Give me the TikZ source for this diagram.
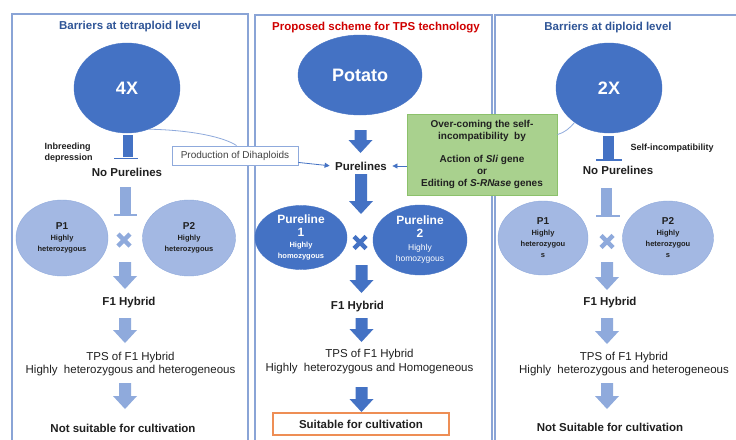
\documentclass[tikz,border=0pt]{standalone}
\usepackage{fontspec}
\setmainfont{Liberation Sans}
\usetikzlibrary{arrows.meta,calc,shapes.geometric}
\definecolor{dblue}{HTML}{4472C4}
\definecolor{lblue}{HTML}{8FAADC}
\definecolor{lfill}{HTML}{A3B8E3}
\definecolor{pborder}{HTML}{8AA4D6}
\definecolor{tblue}{HTML}{2F5597}
\definecolor{tred}{HTML}{D00000}
\definecolor{gfill}{HTML}{A9D18E}
\definecolor{gdraw}{HTML}{8CC16B}
\definecolor{obox}{HTML}{EE8E55}
\definecolor{txt}{HTML}{202020}
\begin{document}
\begin{tikzpicture}[x=1pt,y=-1pt,
  panel/.style={draw=pborder, line width=1.1pt},
  title/.style={font=\bfseries\fontsize{11.5}{13}\selectfont, text=tblue},
  bigell/.style={ellipse, fill=dblue, draw=dblue, text=white, inner sep=0pt,
    font=\bfseries\fontsize{18}{20}\selectfont},
  lbl/.style={font=\bfseries\fontsize{11.5}{13}\selectfont, text=txt},
  reg/.style={font=\fontsize{11.5}{13.5}\selectfont, align=center, text=txt},
  small/.style={font=\bfseries\fontsize{9}{11}\selectfont, text=txt, align=left},
  pell/.style={ellipse, fill=lfill, draw=lblue, align=center, inner sep=0pt, text=txt},
  dell/.style={ellipse, fill=dblue, draw=dblue, align=center, inner sep=0pt, text=white},
  conn/.style={draw=lblue, line width=0.8pt},
  thinarrow/.style={draw=dblue, line width=0.8pt, -{Triangle[length=5pt,width=5pt]}, shorten >=2pt},
  pics/barrow/.style n args={2}{code={
    \fill[#2] (-6,0) -- (6,0) -- (6,#1-13) -- (12,#1-13) -- (0,#1) -- (-12,#1-13) -- (-6,#1-13) -- cycle;}},
  pics/crossmark/.style={code={
    \draw[#1, line width=4.5pt] (-6,-6) -- (6,6) (-6,6) -- (6,-6);}}
]
\useasboundingbox (0,0) rectangle (736,439);
\fill[white] (0,0) rectangle (736,439);

% panels
\draw[panel] (12,445) -- (12,14) -- (248,14) -- (248,445);
\draw[panel] (255,445) -- (255,15) -- (492,15) -- (492,445);
\draw[panel] (495,445) -- (495,15) -- (740,15);

% titles
\node[title] (t1) at (130,27) {Barriers at tetraploid level};
\node[title, text=tred] (t2) at (376,28) {Proposed scheme for TPS technology};
\node[title] (t3) at (608,28) {Barriers at diploid level};

% big ellipses
\node[bigell, minimum width=106pt, minimum height=90pt] (fourx) at (127,88) {4X};
\node[bigell, minimum width=124pt, minimum height=80pt] (potato) at (360,75) {Potato};
\node[bigell, minimum width=106pt, minimum height=90pt] (twox) at (609,88) {2X};

% inhibition bars (dark)
\fill[dblue] (123,135) rectangle (133,157);
\draw[dblue, line width=1.5pt] (114,158.5) -- (138,158.5);
\fill[dblue] (603,136) rectangle (614,159);
\draw[dblue, line width=1.5pt] (596,160) -- (622,160);

\node[small, anchor=west] (inb) at (41,152.5) {Inbreeding\\depression};
\node[small, anchor=west] (selfinc) at (627,148) {Self-incompatibility};

\node[lbl] (np1) at (127,172) {No Purelines};
\node[lbl] (np3) at (618,170) {No Purelines};
\node[lbl] (pure) at (361,166) {Purelines};

% inhibition bars (light)
\fill[lblue] (120,187) rectangle (131,214);
\draw[lblue, line width=1.5pt] (114,215) -- (137,215);
\fill[lblue] (601,188) rectangle (612,215);
\draw[lblue, line width=1.5pt] (596,216) -- (620,216);

% production of dihaploids
\node[draw=lblue, line width=0.9pt, fill=white, minimum width=126pt, minimum height=19pt,
  inner sep=0pt, font=\fontsize{10}{12}\selectfont, text=txt!85] (prod) at (235,155.5) {Production of Dihaploids};
\draw[conn] (fourx.-62) .. controls +(45,1) and +(-12,-8) .. ($(prod.north west)+(65,0)$);
\draw[thinarrow] ($(prod.south east)+(0,-3)$) -- (pure.west);

% green box
\node[draw=gdraw, fill=gfill, line width=0.9pt, minimum width=150pt, minimum height=81pt,
  inner sep=0pt, align=center, text=txt, font=\bfseries\fontsize{10}{11.8}\selectfont] (green) at (482,154.5)
  {Over-coming the self-\\incompatibility\ \ by\\[11.8pt]Action of \textit{Sli} gene\\or\\Editing of \textit{S-RNase} genes};
\draw[thinarrow] (green.west |- pure) -- (pure.east);
\draw[conn] ($(green.north east)+(0,21)$) .. controls +(7,-2) and +(-5,6) .. (twox.-135);

% parents left
\node[pell, minimum width=92pt, minimum height=76pt] (p1l) at (62,238)
  {{\bfseries\fontsize{10}{10}\selectfont P1}\\[-1pt]{\bfseries\fontsize{7.5}{9}\selectfont Highly}\\[-1pt]{\bfseries\fontsize{7.5}{9}\selectfont heterozygous}};
\node[pell, minimum width=93pt, minimum height=76pt] (p2l) at (189,238)
  {{\bfseries\fontsize{10}{10}\selectfont P2}\\[-1pt]{\bfseries\fontsize{7.5}{9}\selectfont Highly}\\[-1pt]{\bfseries\fontsize{7.5}{9}\selectfont heterozygous}};
\pic at (124,240) {crossmark=lblue};

% parents right
\node[pell, minimum width=90pt, minimum height=74pt] (p1r) at (543,238)
  {{\bfseries\fontsize{10}{10}\selectfont P1}\\[-1pt]{\bfseries\fontsize{7.5}{9}\selectfont Highly}\\[-1pt]{\bfseries\fontsize{7.5}{9}\selectfont heterozygou}\\[-1pt]{\bfseries\fontsize{7.5}{9}\selectfont s}};
\node[pell, minimum width=91pt, minimum height=74pt] (p2r) at (668,238)
  {{\bfseries\fontsize{10}{10}\selectfont P2}\\[-1pt]{\bfseries\fontsize{7.5}{9}\selectfont Highly}\\[-1pt]{\bfseries\fontsize{7.5}{9}\selectfont heterozygou}\\[-1pt]{\bfseries\fontsize{7.5}{9}\selectfont s}};
\pic at (607,241.5) {crossmark=lblue};

% purelines middle
\node[dell, minimum width=92pt, minimum height=63pt] (pl1) at (301,237.5)
  {{\bfseries\fontsize{12}{14}\selectfont Pureline}\\[1pt]{\bfseries\fontsize{12}{13}\selectfont 1}\\[-1pt]{\bfseries\fontsize{7.5}{9}\selectfont Highly}\\[-1pt]{\bfseries\fontsize{7.5}{9}\selectfont homozygous}};
\node[dell, minimum width=94pt, minimum height=70pt] (pl2) at (420,240)
  {{\bfseries\fontsize{12}{14}\selectfont Pureline}\\[1pt]{\bfseries\fontsize{12}{13}\selectfont 2}\\[1pt]{\fontsize{8.5}{10}\selectfont Highly}\\[-1pt]{\fontsize{8.5}{10}\selectfont homozygous}};
\pic at (360,242.5) {crossmark=dblue};

% block arrows
\pic at (125,262) {barrow={27}{lblue}};
\pic at (125,318) {barrow={25}{lblue}};
\pic at (125,383) {barrow={26}{lblue}};
\pic at (360.5,130) {barrow={23}{dblue}};
\pic at (361,174) {barrow={40}{dblue}};
\pic at (361.5,265) {barrow={28}{dblue}};
\pic at (361.5,318) {barrow={24}{dblue}};
\pic at (361.5,387) {barrow={25}{dblue}};
\pic at (607,262) {barrow={28}{lblue}};
\pic at (607,318) {barrow={26}{lblue}};
\pic at (607,383) {barrow={26}{lblue}};

% F1 hybrids
\node[lbl] (f1l) at (129,303) {F1 Hybrid};
\node[lbl] (f1m) at (357.5,307) {F1 Hybrid};
\node[lbl] (f1r) at (610,303) {F1 Hybrid};

% TPS
\node[reg] (tpsl) at (130.5,364) {TPS of F1 Hybrid\\Highly\ \ heterozygous and heterogeneous};
\node[reg] (tpsm) at (369.5,361.5) {TPS of F1 Hybrid\\Highly\ \ heterozygous and Homogeneous};
\node[reg] (tpsr) at (624,364) {TPS of F1 Hybrid\\Highly\ \ heterozygous and heterogeneous};

% outcomes
\node[lbl] (outl) at (123,428) {Not suitable for cultivation};
\node[draw=obox, line width=1.2pt, minimum width=176pt, minimum height=22pt, inner sep=0pt,
  font=\bfseries\fontsize{11.5}{13}\selectfont, text=txt] (outm) at (361,424) {Suitable for cultivation};
\node[lbl] (outr) at (610,427) {Not Suitable for cultivation};
\end{tikzpicture}
\end{document}
